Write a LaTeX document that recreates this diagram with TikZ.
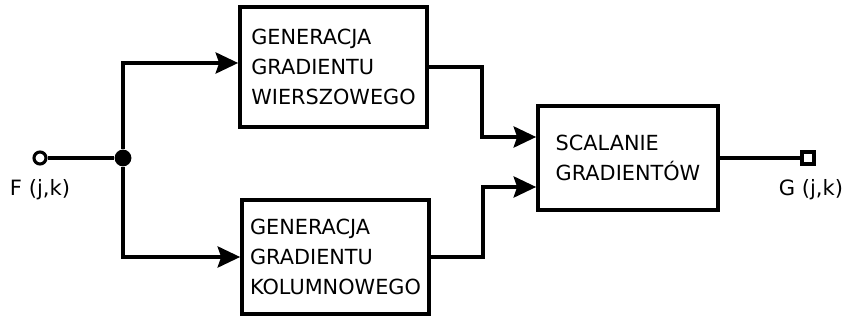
\documentclass[tikz,border=0pt]{standalone}
\usepackage{fontspec}
\setmainfont{DejaVu Sans}
\usetikzlibrary{arrows.meta}
\begin{document}
\begin{tikzpicture}[x=0.025cm,y=-0.025cm,
		block/.style={draw, line width=2.6pt, align=left, inner sep=0pt,
			font=\fontsize{14.8}{21.5}\selectfont},
		wire/.style={line width=2.6pt},
		arr/.style={wire, -{Stealth[length=16pt,width=15pt,inset=2.5pt]}},
		lbl/.style={font=\fontsize{15}{18}\selectfont}]
		\useasboundingbox (0,0) rectangle (843,320);
		% Blocks
		\node[block, minimum width=4.675cm, minimum height=3cm] (wier) at (333.5,67)
			{GENERACJA\\GRADIENTU\\WIERSZOWEGO};
		\node[block, minimum width=4.675cm, minimum height=2.85cm] (kol) at (335.5,257)
			{GENERACJA\\GRADIENTU\\KOLUMNOWEGO};
		\node[block, minimum width=4.5cm, minimum height=2.6cm] (scal) at (628,158)
			{SCALANIE\\GRADIENTÓW};
		% Input terminal and split point
		\node[draw, circle, line width=2.2pt, fill=white, inner sep=0pt, minimum size=0.3cm] (fin) at (40,158) {};
		\node[circle, fill=black, inner sep=0pt, minimum size=0.42cm] (split) at (123,158) {};
		\node[lbl] (flbl) at (40,190) {F (j,k)};
		% Output terminal
		\node[draw, rectangle, line width=2.2pt, fill=white, inner sep=0pt, minimum size=0.3cm] (gout) at (808,158) {};
		\node[lbl] (glbl) at (811,190) {G (j,k)};
		% Connections
		\draw[wire] (fin) -- (split);
		\draw[arr] (split) |- (wier.west |- 0,63);
		\draw[arr] (split) |- (kol.west);
		\draw[arr] (wier.east) -| (482,137) -- (scal.west |- 0,137);
		\draw[arr] (kol.east) -| (483,187) -- (scal.west |- 0,187);
		\draw[wire] (scal.east) -- (gout);
	\end{tikzpicture}
\end{document}
